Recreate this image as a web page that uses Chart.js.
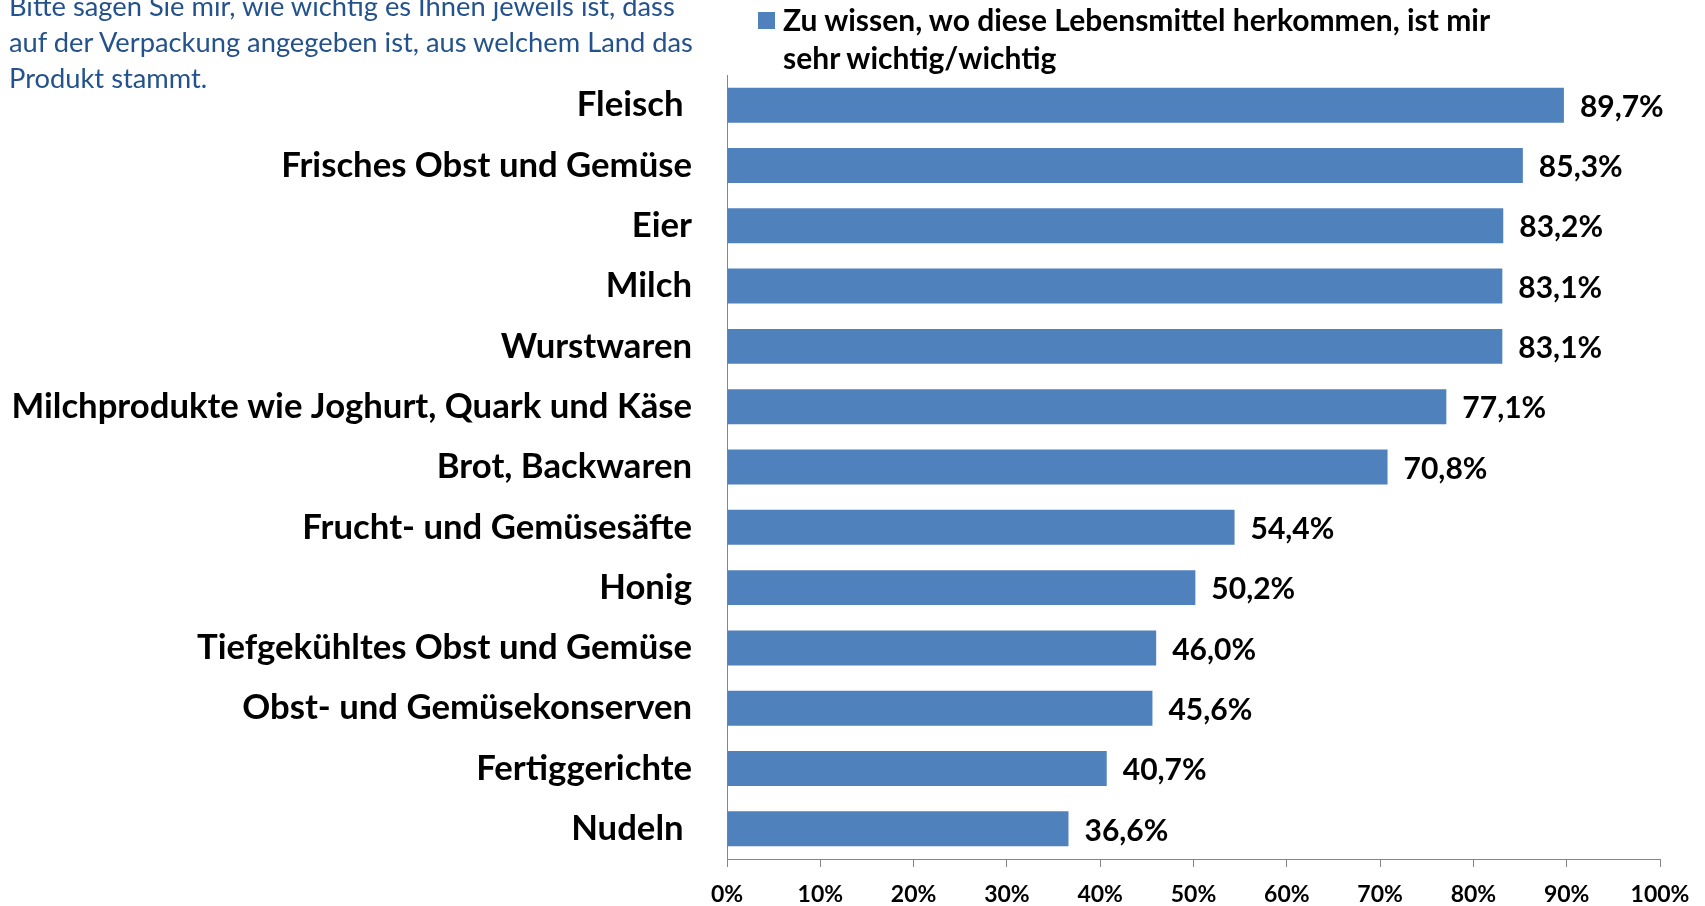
<!DOCTYPE html>
<html lang="de">
<head>
<meta charset="utf-8">
<title>Herkunftsangabe Lebensmittel</title>
<script src="https://cdn.jsdelivr.net/npm/chart.js@4.4.1/dist/chart.umd.min.js"></script>
<style>
  html, body { margin: 0; padding: 0; background: #ffffff; }
  #wrap { position: relative; width: 1705px; height: 906px; overflow: hidden; }
  #c { position: absolute; left: 0; top: 0; }
  #question { position: absolute; left: 9px; top: -12px; font-family: Lato, sans-serif; font-size: 27.3px; line-height: 36px; color: #24528c; white-space: nowrap; }
  #legend { position: absolute; left: 758px; top: 0px; font-family: Lato, sans-serif; font-weight: bold; font-size: 30px; line-height: 38px; color: #000; white-space: nowrap; }
  #legend .sw { position: absolute; left: 0; top: 12px; width: 17px; height: 17px; }
  #legend .txt { position: absolute; left: 25px; top: 0; }
</style>
</head>
<body>
<div id="wrap">
  <canvas id="c" width="1705" height="906"></canvas>
  <div id="question"></div>
  <div id="legend"><div class="sw"></div><div class="txt"></div></div>
</div>
<script>
// ---- data ----
const questionLines = [
  'Bitte sagen Sie mir, wie wichtig es Ihnen jeweils ist, dass',
  'auf der Verpackung angegeben ist, aus welchem Land das',
  'Produkt stammt.'
];
const seriesNameLines = [
  'Zu wissen, wo diese Lebensmittel herkommen, ist mir',
  'sehr wichtig/wichtig'
];
const categories = [
  'Fleisch ',
  'Frisches Obst und Gemüse',
  'Eier',
  'Milch',
  'Wurstwaren',
  'Milchprodukte wie Joghurt, Quark und Käse',
  'Brot, Backwaren',
  'Frucht- und Gemüsesäfte',
  'Honig',
  'Tiefgekühltes Obst und Gemüse',
  'Obst- und Gemüsekonserven',
  'Fertiggerichte',
  'Nudeln '
];
const values = [89.7, 85.3, 83.2, 83.1, 83.1, 77.1, 70.8, 54.4, 50.2, 46.0, 45.6, 40.7, 36.6];
const tickValues = [0, 10, 20, 30, 40, 50, 60, 70, 80, 90, 100];
const tickLabels = ['0%', '10%', '20%', '30%', '40%', '50%', '60%', '70%', '80%', '90%', '100%'];

// ---- styles ----
const barColor = '#4F81BD';
const axisColor = '#868686';

document.getElementById('question').innerHTML = questionLines.map(s => '<div>' + s + '</div>').join('');
document.querySelector('#legend .txt').innerHTML = seriesNameLines.map(s => '<div>' + s + '</div>').join('');
document.querySelector('#legend .sw').style.background = barColor;

function fmt(v) { return v.toFixed(1).replace('.', ',') + '%'; }

const valueLabels = {
  id: 'valueLabels',
  afterDatasetsDraw(chart) {
    const ctx = chart.ctx;
    const meta = chart.getDatasetMeta(0);
    ctx.save();
    ctx.font = 'bold 30px Lato, sans-serif';
    ctx.fillStyle = '#000';
    ctx.textAlign = 'left';
    ctx.textBaseline = 'middle';
    meta.data.forEach((el, i) => {
      ctx.fillText(fmt(chart.data.datasets[0].data[i]), el.x + 16, el.y + 2);
    });
    ctx.restore();
  }
};

Chart.defaults.font.family = 'Lato, sans-serif';

new Chart(document.getElementById('c'), {
  type: 'bar',
  data: {
    labels: categories,
    datasets: [{
      label: seriesNameLines.join(' '),
      data: values,
      backgroundColor: barColor,
      borderWidth: 0,
      categoryPercentage: 1.0,
      barPercentage: 0.58
    }]
  },
  options: {
    indexAxis: 'y',
    responsive: false,
    animation: false,
    layout: { padding: { top: 75, right: 45, left: 0, bottom: 0 } },
    plugins: {
      legend: { display: false },
      tooltip: { enabled: false },
      title: { display: false }
    },
    scales: {
      y: {
        type: 'category',
        grid: { display: false, drawTicks: false },
        border: { display: true, color: axisColor, width: 1 },
        ticks: {
          color: '#000',
          padding: 35,
          font: { size: 34.7, weight: 'bold' }
        },
        afterFit(scale) {
          scale.width = 727;
          scale.paddingTop = 0;
          scale.paddingBottom = 0;
        }
      },
      x: {
        type: 'linear',
        min: 0,
        max: 100,
        grid: { display: true, drawOnChartArea: false, drawTicks: true, tickLength: 8, color: axisColor, lineWidth: 1 },
        border: { display: true, color: axisColor, width: 1 },
        afterBuildTicks(scale) { scale.ticks = tickValues.map(v => ({ value: v })); },
        ticks: {
          color: '#000',
          padding: 14,
          maxRotation: 0,
          autoSkip: false,
          font: { size: 23, weight: 'bold' },
          callback(value) { const i = tickValues.indexOf(value); return i >= 0 ? tickLabels[i] : ''; }
        },
        afterFit(scale) { scale.height = 47; }
      }
    }
  },
  plugins: [valueLabels]
});
</script>
</body>
</html>
